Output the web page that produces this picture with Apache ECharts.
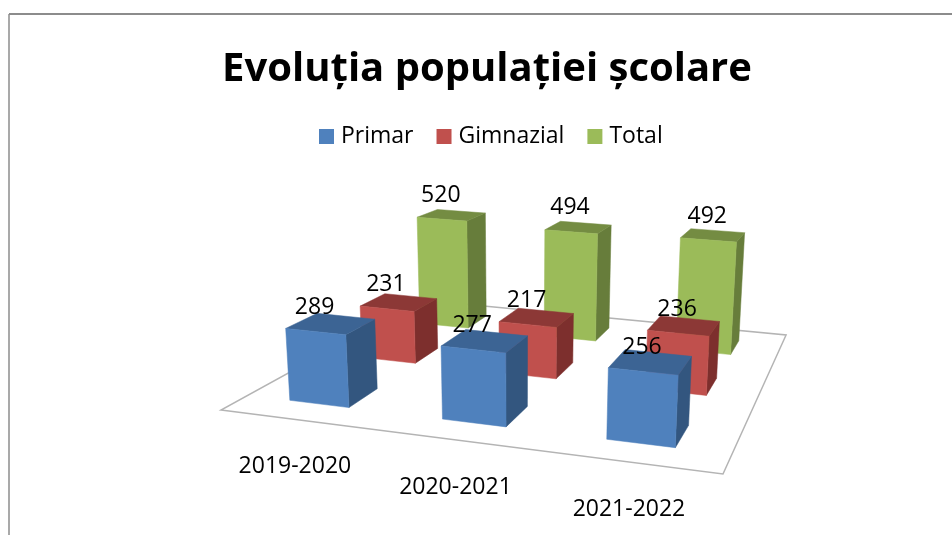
<!DOCTYPE html>
<html>
<head>
<meta charset="utf-8">
<style>
  html, body { margin: 0; padding: 0; background: #fff; }
  #chart { width: 952px; height: 535px; }
</style>
<script src="https://cdn.jsdelivr.net/npm/echarts@6/dist/echarts.min.js"></script>
</head>
<body>
<div id="chart"></div>
<script>
const categories = ['2019-2020', '2020-2021', '2021-2022']
const primar = [289, 277, 256]
const gimnazial = [231, 217, 236]
const total = [520, 494, 492]

const FONT = '"Open Sans", sans-serif'

// perspective camera fitted on the floor corners of the picture
// u goes along the categories, v goes front to back, t is bar height from the value axis
const CAM = { a: 422.9, b: 365.9, c: 221, d: 12.1, e: 8.2, f: 410, g: -0.1094, h: 0.394, j: -1.258e-4, vx: 520, vy: 4400 }

function project(u, v, t) {
  const w = 1 + CAM.g * u + CAM.h * v + CAM.j * t
  return [
    (CAM.a * u + CAM.b * v + CAM.c + CAM.vx * CAM.j * t) / w,
    (CAM.d * u + CAM.e * v + CAM.f + CAM.vy * CAM.j * t) / w,
  ]
}

const BAR_HALF = 0.066
const BAR_SHIFT = -0.005
// bars towards the right corner come out a bit taller than the camera alone gives
const RIGHT_STRETCH = 0.08

function barSeries(name, values, depth, faces, z) {
  return {
    name,
    type: 'custom',
    z,
    itemStyle: { color: faces.front },
    data: values.map((v, i) => [i, v]),
    encode: { x: 0, y: 1 },
    renderItem: (params, api) => {
      const rect = params.coordSys
      const u = (api.coord([api.value(0), 0])[0] - rect.x) / rect.width + BAR_SHIFT
      const t = api.size([0, api.value(1)])[1] * (1 + RIGHT_STRETCH * (u - 1 / 6))
      const u0 = u - BAR_HALF
      const u1 = u + BAR_HALF
      const v0 = depth - BAR_HALF
      const v1 = depth + BAR_HALF
      const face = (pts, color) => ({
        type: 'polygon',
        shape: { points: pts },
        style: { fill: color, stroke: color, lineWidth: 0.5 },
      })
      const topFront = project(u, v0, t)
      return {
        type: 'group',
        children: [
          face([project(u1, v0, 0), project(u1, v1, 0), project(u1, v1, t), project(u1, v0, t)], faces.side),
          face([project(u0, v0, t), project(u1, v0, t), project(u1, v1, t), project(u0, v1, t)], faces.top),
          face([project(u0, v0, 0), project(u1, v0, 0), project(u1, v0, t), project(u0, v0, t)], faces.front),
          {
            type: 'text',
            z2: 10,
            style: {
              x: topFront[0] - 1,
              y: topFront[1] - 24,
              text: String(api.value(1)),
              align: 'center',
              verticalAlign: 'middle',
              fill: '#000',
              font: `23px ${FONT}`,
            },
          },
        ],
      }
    },
  }
}

const chart = echarts.init(document.getElementById('chart'))

chart.setOption({
  backgroundColor: '#fff',
  animation: false,
  title: {
    text: 'Evoluția populației școlare',
    left: 482,
    top: 45,
    textAlign: 'center',
    textStyle: { fontFamily: FONT, fontSize: 40, fontWeight: 'bold', color: '#000' },
  },
  legend: {
    top: 125,
    left: 319,
    padding: 0,
    icon: 'rect',
    itemWidth: 15,
    itemHeight: 15,
    itemGap: 23,
    selectedMode: false,
    data: ['Primar', 'Gimnazial', 'Total'],
    textStyle: { fontFamily: FONT, fontSize: 23, color: '#000', padding: [0, 0, 0, 2] },
  },
  grid: { left: 100, right: 100, top: 100, height: 300 },
  xAxis: { type: 'category', data: categories, show: false },
  yAxis: { type: 'value', min: 0, max: 600, show: false },
  graphic: [
    { type: 'line', shape: { x1: 9, y1: 14, x2: 952, y2: 14 }, style: { stroke: '#8c8c8c', lineWidth: 2 } },
    { type: 'line', shape: { x1: 9, y1: 14, x2: 9, y2: 535 }, style: { stroke: '#8c8c8c', lineWidth: 1.5 } },
  ],
  series: [
    {
      // floor and category names
      type: 'custom',
      z: 1,
      data: categories.map((c, i) => [i, 0]),
      encode: { x: 0, y: 1 },
      silent: true,
      renderItem: (params, api) => {
        const rect = params.coordSys
        const u = (api.coord([api.value(0), 0])[0] - rect.x) / rect.width
        const front = project(u, 0, 0)
        const children = [
          {
            type: 'text',
            style: {
              x: front[0] - 2,
              y: front[1] + 47,
              text: categories[params.dataIndex],
              align: 'center',
              verticalAlign: 'middle',
              fill: '#000',
              font: `23px ${FONT}`,
            },
          },
        ]
        if (params.dataIndex === 0) {
          children.unshift({
            type: 'polygon',
            shape: { points: [project(0, 0, 0), project(1, 0, 0), project(1, 1, 0), project(0, 1, 0)] },
            style: { fill: '#fff', stroke: '#b4b4b4', lineWidth: 1.5 },
          })
        }
        return { type: 'group', children }
      },
    },
    barSeries('Primar', primar, 1 / 6, { front: '#4F81BD', side: '#33567F', top: '#3C6494' }, 4),
    barSeries('Gimnazial', gimnazial, 1 / 2, { front: '#C0504D', side: '#7D2F2D', top: '#8C3836' }, 3),
    barSeries('Total', total, 5 / 6, { front: '#9BBB59', side: '#677D3B', top: '#748C42' }, 2),
  ],
})

window.addEventListener('resize', () => chart.resize())
</script>
</body>
</html>
